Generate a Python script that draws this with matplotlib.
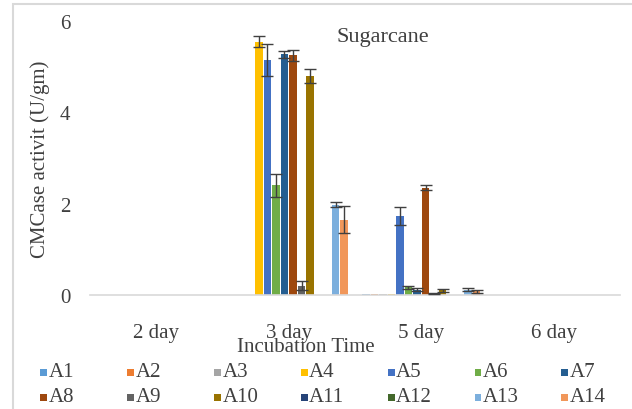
import numpy as np
import matplotlib
matplotlib.use('Agg')
import matplotlib.pyplot as plt
from matplotlib.patches import Rectangle

plt.rcParams['font.family'] = ['Liberation Serif', 'DejaVu Serif']

days = ['2 day', '3 day', '5 day', '6 day']
series = ['A1', 'A2', 'A3', 'A4', 'A5', 'A6', 'A7',
          'A8', 'A9', 'A10', 'A11', 'A12', 'A13', 'A14']
colors = ['#5B9BD5', '#ED7D31', '#A5A5A5', '#FFC000', '#4472C4', '#70AD47', '#255E91',
          '#9E480E', '#636363', '#997300', '#264478', '#43682B', '#7CAFDD', '#F1975A']

# activity per series: [2 day, 3 day, 5 day, 6 day]
vals = {
    'A1':  [0, 0, 0.02, 0],
    'A2':  [0, 0, 0.02, 0],
    'A3':  [0, 0, 0.02, 0],
    'A4':  [0, 5.55, 0.02, 0],
    'A5':  [0, 5.15, 1.73, 0],
    'A6':  [0, 2.40, 0.17, 0],
    'A7':  [0, 5.27, 0.12, 0],
    'A8':  [0, 5.25, 2.35, 0],
    'A9':  [0, 0.20, 0.03, 0],
    'A10': [0, 4.80, 0.10, 0],
    'A11': [0, 0, 0, 0],
    'A12': [0, 0, 0, 0],
    'A13': [0, 1.98, 0.12, 0],
    'A14': [0, 1.65, 0.08, 0],
}
errs = {
    'A1':  [0, 0, 0, 0],
    'A2':  [0, 0, 0, 0],
    'A3':  [0, 0, 0, 0],
    'A4':  [0, 0.12, 0, 0],
    'A5':  [0, 0.35, 0.20, 0],
    'A6':  [0, 0.25, 0.03, 0],
    'A7':  [0, 0.08, 0.03, 0],
    'A8':  [0, 0.12, 0.05, 0],
    'A9':  [0, 0.10, 0.01, 0],
    'A10': [0, 0.15, 0.03, 0],
    'A11': [0, 0, 0, 0],
    'A12': [0, 0, 0, 0],
    'A13': [0, 0.05, 0.04, 0],
    'A14': [0, 0.30, 0.04, 0],
}

W, H = 632, 410
fig = plt.figure(figsize=(W/100, H/100), dpi=100)
ax = fig.add_axes([90/W, 114/H, 530/W, 274/H])
txt = '#404040'

x = np.arange(len(days))
step = 0.9 / len(series)
for i, s in enumerate(series):
    pos = x - 0.45 + step * (i + 0.5)
    e = np.array(errs[s])
    ax.bar(pos, vals[s], width=step * 0.85, color=colors[i], zorder=2)
    m = e > 0
    if m.any():
        ax.errorbar(pos[m], np.array(vals[s])[m], yerr=e[m], fmt='none',
                    ecolor='#404040', elinewidth=1, capsize=4, capthick=1, zorder=3)

ax.set_xlim(-0.5, 3.5)
ax.set_ylim(0, 6)
ax.set_yticks([0, 2, 4, 6])
ax.set_xticks(x)
ax.set_xticklabels(days, fontsize=15, color=txt)
ax.tick_params(axis='y', labelsize=15, colors=txt, length=0, pad=14)
ax.tick_params(axis='x', length=0, pad=20)
for sp in ['top', 'right', 'left']:
    ax.spines[sp].set_visible(False)
ax.spines['bottom'].set_color('#D9D9D9')
ax.spines['bottom'].set_linewidth(1.2)

ax.set_ylabel('CMCase activit (U/gm)', fontsize=15, color=txt, labelpad=7)
ax.text(0.553, 0.945, 'Sugarcane', transform=ax.transAxes, ha='center', va='center',
        fontsize=16, color=txt)
fig.text(306/W, 1 - 348/H, 'Incubation Time', ha='center', va='center',
         fontsize=15, color=txt)

# legend: 2 rows x 7 evenly spaced entries, drawn by hand like Excel's
for i, (s, c) in enumerate(zip(series, colors)):
    row, col = divmod(i, 7)
    lx = 40 + 86.9 * col
    ly = 373 + 25 * row
    fig.patches.append(Rectangle((lx/W, 1 - (ly + 3.5)/H), 7/W, 7/H,
                                 transform=fig.transFigure, facecolor=c, edgecolor='none'))
    fig.text((lx + 8.5)/W, 1 - ly/H, s, ha='left', va='center', fontsize=15, color=txt)

fig.patches.append(Rectangle((13/W, -0.1), 1.2, 1 - 5/H + 0.1, transform=fig.transFigure,
                             fill=False, edgecolor='#D9D9D9', linewidth=1.5))

fig.savefig('out.png', dpi=100)
